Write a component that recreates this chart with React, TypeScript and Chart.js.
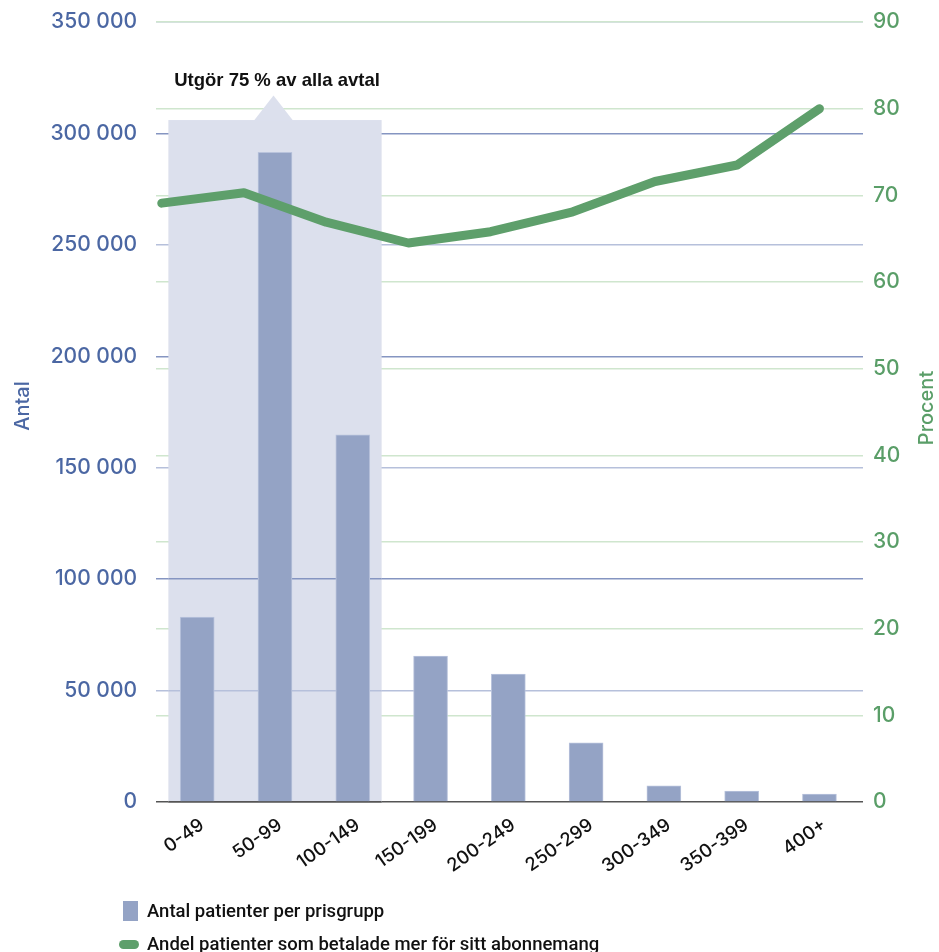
import React, { useEffect, useRef } from "react";
import { Chart, registerables } from "chart.js";

Chart.register(...registerables);

const CATEGORIES = ["0-49", "50-99", "100-149", "150-199", "200-249", "250-299", "300-349", "350-399", "400+"];
const PATIENT_COUNTS = [83000, 291500, 164700, 65500, 57400, 26500, 7300, 4900, 3600];
const SHARE_PAID_MORE = [69.1, 70.3, 66.9, 64.5, 65.8, 68.1, 71.6, 73.5, 80.0];

const LEFT_MAX = 350000;
const LEFT_STEP = 50000;
const RIGHT_MAX = 90;
const RIGHT_STEP = 10;

const BAR_LABEL = "Antal patienter per prisgrupp";
const LINE_LABEL = "Andel patienter som betalade mer för sitt abonnemang";
const LEFT_TITLE = "Antal";
const RIGHT_TITLE = "Procent";

const HIGHLIGHT_FROM = 0;
const HIGHLIGHT_TO = 2;
const HIGHLIGHT_NOTCH_AT = 1;
const HIGHLIGHT_TOP = 306000;
const HIGHLIGHT_LABEL = "Utgör 75 % av alla avtal";
const HIGHLIGHT_ON_TOP_MAX = 100000;

const BLUE = "#4b67a3";
const GREEN = "#5a9e68";
const BAR_FILL = "#94a3c5";
const LINE_COLOR = "#5e9f6b";
const SHADE = "#dce0ed";
const AXIS_FONT = "Inter, 'DejaVu Sans', sans-serif";

const fmt = (v: number) => String(v).replace(/\B(?=(\d{3})+(?!\d))/g, " ");

const blueGrid = (v: number) => (v === 0 ? "#555555" : v % 100000 === 0 ? "#8595c1" : "#b6c0db");

const alignPx = (p: number, w: number) => Math.round(p - w / 2) + w / 2;

const drawVerticalTitle = (ctx: any, text: string, color: string, x: number, y: number) => {
  ctx.save();
  ctx.translate(x, y);
  ctx.rotate(-Math.PI / 2);
  ctx.fillStyle = color;
  ctx.font = `500 20px ${AXIS_FONT}`;
  ctx.textAlign = "center";
  ctx.textBaseline = "middle";
  ctx.fillText(text, 0, 0);
  ctx.restore();
};

const highlightPlugin = {
  id: "highlight",
  beforeDatasetsDraw(chart: any) {
    const { ctx } = chart;
    const x = chart.scales.x;
    const y = chart.scales.y;
    const pad = 0.371;
    const left = x.getPixelForValue(HIGHLIGHT_FROM - pad);
    const right = x.getPixelForValue(HIGHLIGHT_TO + pad);
    const top = y.getPixelForValue(HIGHLIGHT_TOP);
    const bottom = y.getPixelForValue(0);
    const cx = x.getPixelForValue(HIGHLIGHT_NOTCH_AT);
    ctx.save();
    ctx.fillStyle = SHADE;
    ctx.fillRect(left, top, right - left, bottom - top);
    ctx.beginPath();
    ctx.moveTo(cx - 21, top + 0.5);
    ctx.lineTo(cx - 1.5, top - 24.5);
    ctx.lineTo(cx + 18, top + 0.5);
    ctx.closePath();
    ctx.fill();
    // lower gridlines sit on top of the shade
    y.ticks.forEach((t: any) => {
      if (t.value > HIGHLIGHT_ON_TOP_MAX) return;
      const py = alignPx(y.getPixelForValue(t.value), 1.5);
      ctx.strokeStyle = blueGrid(t.value);
      ctx.lineWidth = 1.5;
      ctx.beginPath();
      ctx.moveTo(left, py);
      ctx.lineTo(right, py);
      ctx.stroke();
    });
    ctx.fillStyle = "#111111";
    ctx.font = 'bold 18.5px "Liberation Sans"';
    ctx.textAlign = "center";
    ctx.textBaseline = "middle";
    ctx.fillText(HIGHLIGHT_LABEL, cx + 2, top - 39);
    ctx.restore();
  },
  afterDraw(chart: any) {
    const { ctx, chartArea } = chart;
    const midY = (chartArea.top + chartArea.bottom) / 2;
    drawVerticalTitle(ctx, LEFT_TITLE, BLUE, 22.5, midY - 6);
    drawVerticalTitle(ctx, RIGHT_TITLE, GREEN, 927, midY - 4);
  },
};

const noVPad = (s: any, w: number) => {
  s.width = w;
  s.paddingTop = 0;
  s.paddingBottom = 0;
};

export default function App() {
  const ref = useRef<HTMLCanvasElement | null>(null);

  useEffect(() => {
    if (!ref.current) return;
    const chart = new Chart(ref.current, {
      type: "bar",
      data: {
        datasets: [
          {
            type: "bar",
            label: BAR_LABEL,
            data: CATEGORIES.map((_, i) => ({ x: i, y: PATIENT_COUNTS[i] })),
            backgroundColor: BAR_FILL,
            borderColor: "#b9c3dc",
            borderWidth: 1,
            barThickness: 34,
            grouped: false,
            xAxisID: "x",
            yAxisID: "y",
            order: 1,
          } as any,
          {
            type: "line",
            label: LINE_LABEL,
            data: CATEGORIES.map((_, i) => ({ x: i, y: SHARE_PAID_MORE[i] })),
            borderColor: LINE_COLOR,
            backgroundColor: LINE_COLOR,
            borderWidth: 9,
            pointRadius: 0,
            borderCapStyle: "round",
            borderJoinStyle: "round",
            tension: 0,
            xAxisID: "x2",
            yAxisID: "y1",
            order: 0,
          } as any,
        ],
      },
      options: {
        responsive: false,
        maintainAspectRatio: false,
        animation: false,
        layout: { padding: { top: 22, left: 0, right: 0, bottom: 0 } },
        plugins: { legend: { display: false }, tooltip: { enabled: false } },
        scales: {
          x: {
            type: "linear",
            position: "bottom",
            offset: false,
            min: -0.53,
            max: 8.56,
            afterBuildTicks: (s: any) => {
              s.ticks = CATEGORIES.map((_, i) => ({ value: i }));
            },
            afterFit: (s: any) => {
              s.height = 150;
              s.paddingLeft = 0;
              s.paddingRight = 0;
            },
            grid: { display: false, offset: false },
            border: { display: false },
            ticks: {
              autoSkip: false,
              minRotation: 35,
              maxRotation: 35,
              padding: 4,
              labelOffset: 5,
              color: "#111111",
              font: { family: AXIS_FONT, size: 18.5, weight: "500" },
              callback: (v: any) => CATEGORIES[v] ?? "",
            },
          },
          x2: {
            type: "linear",
            display: false,
            offset: false,
            grid: { offset: false },
            min: -0.07,
            max: 8.53,
          },
          y: {
            position: "left",
            min: 0,
            max: LEFT_MAX,
            afterFit: (s: any) => noVPad(s, 156),
            ticks: {
              stepSize: LEFT_STEP,
              padding: 19,
              color: BLUE,
              font: { family: AXIS_FONT, size: 21, weight: "500" },
              callback: (v: any) => fmt(v),
            },
            grid: {
              drawTicks: false,
              lineWidth: 1.5,
              color: (c: any) => blueGrid(c.tick ? c.tick.value : 0),
            },
            border: { display: false },
            title: { display: false },
          },
          y1: {
            position: "right",
            min: 0,
            max: RIGHT_MAX,
            afterFit: (s: any) => noVPad(s, 76),
            ticks: {
              stepSize: RIGHT_STEP,
              padding: 10,
              color: GREEN,
              font: { family: AXIS_FONT, size: 21, weight: "500" },
            },
            grid: {
              drawTicks: false,
              lineWidth: 1.5,
              color: (c: any) => (c.tick && c.tick.value === 0 ? "rgba(0,0,0,0)" : "#cfe6ce"),
            },
            border: { display: false },
            title: { display: false },
          },
        },
      } as any,
      plugins: [highlightPlugin],
    });
    return () => chart.destroy();
  }, []);

  const legendText: React.CSSProperties = {
    position: "absolute",
    left: 147,
    fontFamily: "Roboto, 'Liberation Sans', sans-serif",
    fontWeight: 500,
    fontSize: 18.5,
    lineHeight: "24px",
    color: "#111111",
    whiteSpace: "nowrap",
  };

  return (
    <div style={{ position: "absolute", left: 0, top: 0, width: 939, height: 952, background: "#ffffff", overflow: "hidden" }}>
      <canvas ref={ref} width={939} height={952} style={{ position: "absolute", left: 0, top: 0, width: 939, height: 952 }} />
      <div style={{ position: "absolute", left: 123, top: 901, width: 15, height: 20, background: BAR_FILL }} />
      <div style={{ ...legendText, top: 899 }}>{BAR_LABEL}</div>
      <div style={{ position: "absolute", left: 119, top: 940, width: 20, height: 9, borderRadius: 4.5, background: LINE_COLOR }} />
      <div style={{ ...legendText, top: 932 }}>{LINE_LABEL}</div>
    </div>
  );
}
